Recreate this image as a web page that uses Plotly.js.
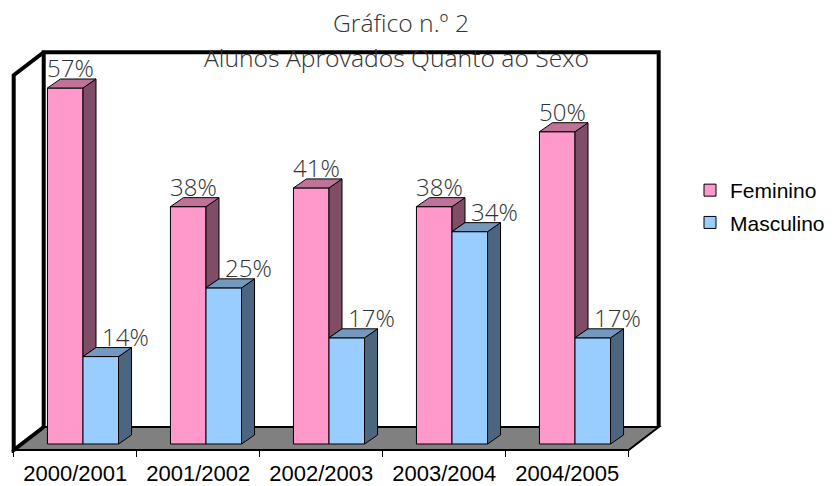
<!DOCTYPE html>
<html><head><meta charset="utf-8">
<script src="https://cdn.plot.ly/plotly-3.0.1.min.js"></script>
<style>html,body{margin:0;padding:0;background:#fff}#chart{width:837px;height:486px}</style>
</head><body><div id="chart"></div>
<script>
// ---- data ----
const categories = ['2000/2001', '2001/2002', '2002/2003', '2003/2004', '2004/2005'];
const feminino = [57, 38, 41, 38, 50];
const masculino = [14, 25, 17, 34, 17];
const seriesNames = ['Feminino', 'Masculino'];
const titleLine1 = 'Gráfico n.º 2';
const titleLine2 = 'Alunos Aprovados Quanto ao Sexo';

// ---- style / geometry ----
const W = 0.289;                 // bar width (category units)
const BX = 0.1057, BY = 1.441;   // bar depth offset
const FX = -0.0634, FY = -0.9607; // floor front edge relative to bar plane
const DX = 0.2439, DY = 3.683;   // floor / wall depth
const VMAX = 60;                 // value axis maximum
const frontCol = ['#FF99CC', '#99CCFF'];
const topCol = ['#BF7399', '#7399BF'];
const sideCol = ['#804D66', '#4D6680'];
const lightFont = {family: 'Open Sans, DejaVu Sans, sans-serif', size: 24, color: '#333', weight: 300};
const titleFont = Object.assign({}, lightFont, {size: 24.7});
const PX_PER_CAT = 123, PX_PER_PCT = 6.2456;
const PLOT_L = 8, PLOT_R = 662, PLOT_B = 453, ZERO_X = 83, ZERO_Y = 444;

const idx = categories.map((c, i) => i);
const n = categories.length;
const L = -0.5 + FX, R = n - 0.5 + FX;

function sideFaces(vals, off, baseVals) {
  const xs = [], ys = [];
  vals.forEach((v, i) => {
    const r = i + off + W;
    const b = baseVals ? Math.min(baseVals[i], v) : 0;
    xs.push(r, r + BX, r + BX, r, r, null);
    ys.push(b, b + BY, v + BY, v, b, null);
  });
  return {xs, ys};
}
function topFaces(vals, off) {
  const xs = [], ys = [];
  vals.forEach((v, i) => {
    const l = i + off, r = l + W;
    xs.push(l, r, r + BX, l + BX, l, null);
    ys.push(v, v, v + BY, v + BY, v, null);
  });
  return {xs, ys};
}

const series = [feminino, masculino];
const offsets = [-W, 0];
const traces = [];
series.forEach((vals, s) => {
  traces.push({
    type: 'bar', name: seriesNames[s], x: idx, y: vals, base: 0,
    offset: offsets[s], width: W, legendgroup: 'g' + s,
    marker: {color: frontCol[s], line: {color: '#000', width: 1}},
    hoverinfo: 'skip'
  });
});
series.forEach((vals, s) => {
  const sf = sideFaces(vals, offsets[s], s === 0 ? masculino : null);
  const tf = topFaces(vals, offsets[s]);
  traces.push({type: 'scatter', mode: 'lines', x: sf.xs, y: sf.ys, fill: 'toself',
    fillcolor: sideCol[s], line: {color: '#000', width: 1}, showlegend: false, hoverinfo: 'skip'});
  traces.push({type: 'scatter', mode: 'lines', x: tf.xs, y: tf.ys, fill: 'toself',
    fillcolor: topCol[s], line: {color: '#000', width: 1}, showlegend: false, hoverinfo: 'skip'});
});

const shapes = [
  // floor
  {type: 'path', xref: 'x', yref: 'y', layer: 'below',
   path: `M${L},${FY} L${R},${FY} L${R + DX},${FY + DY} L${L + DX},${FY + DY} Z`,
   fillcolor: '#808080', line: {color: '#000', width: 2}},
  // back wall
  {type: 'path', xref: 'x', yref: 'y', layer: 'below',
   path: `M${L + DX},${FY + DY} L${L + DX},${FY + DY + VMAX} L${R + DX},${FY + DY + VMAX} L${R + DX},${FY + DY}`,
   fillcolor: 'rgba(0,0,0,0)', line: {color: '#000', width: 4}},
  // left wall
  {type: 'path', xref: 'x', yref: 'y', layer: 'below',
   path: `M${L + DX},${FY + DY} L${L},${FY} L${L},${FY + VMAX} L${L + DX},${FY + DY + VMAX}`,
   fillcolor: 'rgba(0,0,0,0)', line: {color: '#000', width: 4}}
];

const annotations = [];
series.forEach((vals, s) => {
  vals.forEach((v, i) => {
    annotations.push({
      x: i + offsets[s] + W / 2, y: v + BY, xref: 'x', yref: 'y',
      text: v + '%', showarrow: false, yanchor: 'bottom', xanchor: 'center',
      xshift: s === 0 ? 5 : 25, yshift: -7, font: lightFont
    });
  });
});
annotations.push({
  text: titleLine2, xref: 'paper', yref: 'paper',
  x: (396 - PLOT_L) / (PLOT_R - PLOT_L), y: 1 - 58 / PLOT_B,
  xanchor: 'center', yanchor: 'middle', showarrow: false, font: titleFont
});

const layout = {
  width: 837, height: 486,
  margin: {l: PLOT_L, r: 837 - PLOT_R, t: 0, b: 486 - PLOT_B},
  paper_bgcolor: '#fff', plot_bgcolor: 'rgba(0,0,0,0)',
  barmode: 'overlay',
  title: {text: titleLine1, xref: 'container', yref: 'container', x: 401 / 837, y: 1 - 23 / 486,
          xanchor: 'center', yanchor: 'middle', font: titleFont},
  xaxis: {
    range: [(PLOT_L - ZERO_X) / PX_PER_CAT, (PLOT_R - ZERO_X) / PX_PER_CAT], fixedrange: true,
    anchor: 'free', position: (PLOT_B - 450) / PLOT_B,
    showgrid: false, zeroline: false, showline: false,
    tickmode: 'array', tickvals: idx.map(i => i + FX), ticktext: categories, ticks: '',
    ticklabelstandoff: 8,
    tickfont: {family: 'Liberation Sans, Arial, sans-serif', size: 22, color: '#000'},
    minor: {tickmode: 'array', tickvals: idx.concat([n]).map(i => i - 0.5 + FX), ticks: 'outside',
            ticklen: 6, tickwidth: 1, tickcolor: '#000', showgrid: false}
  },
  yaxis: {
    range: [(ZERO_Y - PLOT_B) / PX_PER_PCT, ZERO_Y / PX_PER_PCT], fixedrange: true,
    showgrid: false, zeroline: false, showline: false, showticklabels: false, ticks: ''
  },
  legend: {
    xref: 'container', yref: 'container', x: 690 / 837, xanchor: 'left', y: 1 - 170 / 486, yanchor: 'top',
    font: {family: 'Liberation Sans, Arial, sans-serif', size: 21, color: '#000'},
    bgcolor: 'rgba(0,0,0,0)', tracegroupgap: 2
  },
  shapes: shapes,
  annotations: annotations,
  showlegend: true
};

Plotly.newPlot('chart', traces, layout, {displayModeBar: false, staticPlot: true});
</script>
</body></html>
